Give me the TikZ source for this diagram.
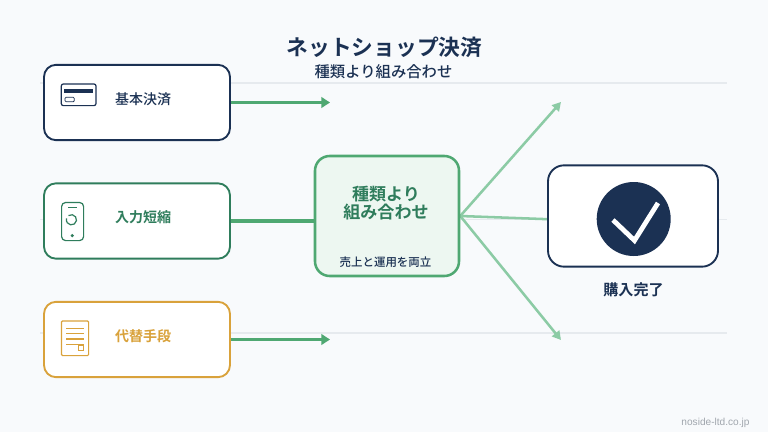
\documentclass[tikz,border=0pt]{standalone}
\usepackage{fontspec}
\setmainfont{Noto Sans CJK JP}[BoldFont={Noto Sans CJK JP Medium}]
\newfontfamily\heavyjp{Noto Sans CJK JP Bold}
\setsansfont{Liberation Sans}
\usetikzlibrary{arrows.meta}
\pgfdeclarelayer{under}
\pgfsetlayers{under,main}
\definecolor{pagebg}{HTML}{F8FAFC}
\definecolor{navy}{HTML}{1B3153}
\definecolor{leaf}{HTML}{2F7D5C}
\definecolor{gold}{HTML}{D9A23B}
\definecolor{mint}{HTML}{EDF7F1}
\definecolor{flow}{HTML}{4FA872}
\definecolor{fan}{HTML}{8CCBA5}
\definecolor{rule}{HTML}{E6EAEE}
\definecolor{foot}{HTML}{A0A6AD}
\tikzset{
  x=0.75pt,y=-0.75pt,
  cardbox/.style={draw,fill=white,line width=1.4pt,rounded corners=9pt,minimum width=139.5pt,minimum height=56.5pt,inner sep=0pt},
  hubbox/.style={draw=flow,fill=mint,line width=1.9pt,rounded corners=11pt,minimum width=108pt,minimum height=90pt,inner sep=0pt},
  donebox/.style={draw=navy,fill=white,line width=1.4pt,rounded corners=12pt,minimum width=127.5pt,minimum height=76pt,inner sep=0pt},
  txt/.style={inner sep=0pt,align=center},
  strongflow/.style={draw=flow,line width=2.9pt,-{Triangle[length=6.5pt,width=8pt]}},
  plainflow/.style={draw=flow,line width=2.9pt},
  fanflow/.style={draw=fan,line width=1.9pt,-{Triangle[length=6.5pt,width=7pt]}},
  fanplain/.style={draw=fan,line width=1.9pt},
  gridline/.style={draw=rule,line width=0.9pt},
  icon/.style={line width=0.9pt,rounded corners=1.5pt}
}
\begin{document}
\begin{tikzpicture}
\useasboundingbox (0,0) rectangle (768,432);
% cards
\node[cardbox,draw=navy] (basic) at (137,102.5) {};
\node[cardbox,draw=leaf] (input) at (137,221) {};
\node[cardbox,draw=gold] (alt) at (137,339.5) {};
\node[hubbox] (hub) at (387,216) {};
\node[donebox] (done) at (633,216) {};
% free ends
\coordinate (endA) at (330,102.5);
\coordinate (endC) at (330,339.5);
\coordinate (fanA) at (561,102);
\coordinate (fanB) at (570,220);
\coordinate (fanC) at (561,340);
\begin{pgfonlayer}{under}
\fill[pagebg] (0,0) rectangle (768,432);
\draw[gridline] (40,83) -- (727,83);
\draw[gridline] (40,219.5) -- (727,219.5);
\draw[gridline] (40,333) -- (727,333);
\draw[strongflow] (basic.east) -- (endA);
\draw[plainflow] (input.east) -- (input.east -| hub.west);
\draw[strongflow] (alt.east) -- (endC);
\draw[fanflow] (hub.east) -- (fanA);
\draw[fanplain] (hub.east) -- (fanB);
\draw[fanflow] (hub.east) -- (fanC);
\end{pgfonlayer}
% titles
\node[txt,text=navy,font=\heavyjp\fontsize{16.3pt}{19pt}\selectfont] (title) at (384.5,47) {ネットショップ決済};
\node[txt,text=navy,font=\bfseries\fontsize{11.5pt}{14pt}\selectfont] (subtitle) at (383.5,72) {種類より組み合わせ};
% card labels
\node[txt,text=navy,font=\bfseries\fontsize{10.5pt}{13pt}\selectfont] (basicT) at (143,99) {基本決済};
\node[txt,text=leaf,font=\heavyjp\fontsize{10.5pt}{13pt}\selectfont] (inputT) at (143,217) {入力短縮};
\node[txt,text=gold,font=\heavyjp\fontsize{10.5pt}{13pt}\selectfont] (altT) at (143,336) {代替手段};
% hub
\node[txt,text=leaf,font=\heavyjp\fontsize{12.8pt}{13.4pt}\selectfont] (hubT) at (386,203) {種類より\\組み合わせ};
\node[txt,text=navy,font=\bfseries\fontsize{8.6pt}{11pt}\selectfont] (hubS) at (385.5,262) {売上と運用を両立};
% done
\node[txt,text=navy,font=\heavyjp\fontsize{11.3pt}{14pt}\selectfont] (doneT) at (633.5,290) {購入完了};
\node[txt,text=foot,font=\sffamily\fontsize{7.6pt}{9pt}\selectfont] (footT) at (715.5,423) {noside-ltd.co.jp};
% card icon
\draw[icon,draw=navy] (61.3,84) rectangle (96,105.6);
\fill[navy] (64,89) rectangle (93,92.7);
\draw[draw=navy,line width=0.6pt,rounded corners=0.8pt] (65,97.3) rectangle (74.3,101.7);
% phone icon
\draw[icon,draw=leaf,rounded corners=3pt] (61.6,202.5) rectangle (83.6,240.6);
\draw[draw=leaf,line width=0.9pt] (68,207.8) -- (76.6,207.8);
\draw[draw=leaf,line width=0.9pt] (68.5,215.6) arc (-125:195:5.1);
\fill[leaf] (72.3,235.6) circle (1.8);
% document icon
\draw[draw=gold,line width=0.9pt,rounded corners=0.8pt] (61.5,321) rectangle (88.6,355.6);
\foreach \yy/\xe in {328.3/83.5,333.5/83.5,339/83.5,344.5/84}
  \draw[draw=gold,line width=0.8pt] (66,\yy) -- (\xe,\yy);
\draw[draw=gold,line width=0.8pt] (78.3,345) rectangle (83.8,350.4);
% check badge
\fill[navy] (633.7,219) circle (37);
\draw[white,line width=3.6pt] (613,220) -- (634.5,240.5) -- (658,203);
\end{tikzpicture}
\end{document}
